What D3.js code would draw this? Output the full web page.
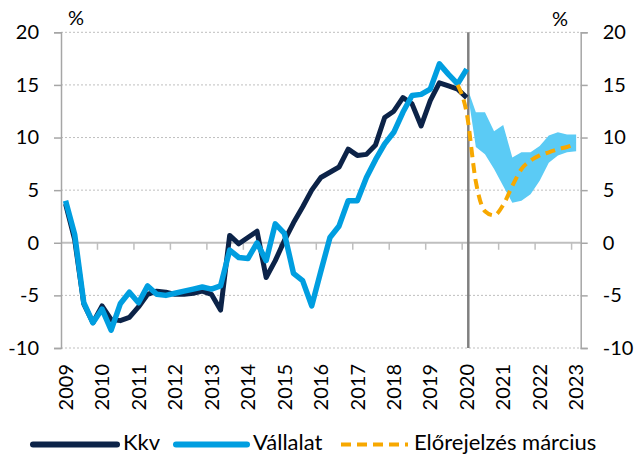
<!DOCTYPE html>
<html>
<head>
<meta charset="utf-8">
<script src="https://cdn.jsdelivr.net/npm/d3@7/dist/d3.min.js"></script>
<style>
    body { margin: 0; background: #fff; }
    svg text { font-family: Lato, "Open Sans", sans-serif; fill: #000; }
</style>
</head>
<body>
<div id="graph_box"></div>
<script>
// quarterly data, 2009 Q1 .. 2020 Q1
const years = ["2009", "2010", "2011", "2012", "2013", "2014", "2015", "2016",
    "2017", "2018", "2019", "2020", "2021", "2022", "2023"];
const kkv = [3.7, 0.3, -5.8, -7.6, -6.0, -7.3, -7.4, -7.1, -6.1, -4.9, -4.6, -4.7,
    -4.9, -4.9, -4.8, -4.6, -4.9, -6.4, 0.7, -0.1, 0.5, 1.1, -3.3, -1.7,
    0.2, 1.9, 3.4, 5.0, 6.2, 6.7, 7.2, 8.9, 8.3, 8.4, 9.3, 11.9,
    12.5, 13.8, 13.2, 11.1, 13.5, 15.2, 14.9, 14.6, 13.8];
const vallalat = [4.0, 0.8, -5.7, -7.6, -6.3, -8.3, -5.8, -4.7, -5.7, -4.1, -4.9, -5.0,
    -4.8, -4.6, -4.4, -4.2, -4.4, -4.1, -0.7, -1.4, -1.5, 0.0, -1.7, 1.8,
    0.9, -2.9, -3.6, -6.0, -2.7, 0.5, 1.6, 4.0, 4.0, 6.2, 7.9, 9.4,
    10.5, 12.4, 14.0, 14.1, 14.6, 17.0, 16.0, 15.1, 16.5];
// forecast band 2020 Q1 .. 2023 Q1
const bandStart = 44;
const bandUpper = [14.9, 12.4, 12.4, 10.6, 11.2, 8.1, 8.6, 8.6, 9.2, 10.2, 10.5, 10.3, 10.3];
const bandLower = [14.9, 9.1, 8.4, 7.0, 5.4, 3.8, 4.0, 4.6, 5.9, 7.6, 8.3, 8.6, 8.7];
// March forecast 2019 Q4 .. 2023 Q1
const forecastStart = 43;
const forecast = [15.0, 12.3, 5.8, 3.0, 2.6, 3.6, 5.4, 7.0, 7.8, 8.3, 8.6, 8.9, 9.1, 9.4];
const yTicks = [-10, -5, 0, 5, 10, 15, 20];
const legendNames = ["Kkv", "Vállalat", "Előrejelzés március"];

const W = 636, H = 455;
const margin = { left: 61, right: 580.7, top: 32.3, bottom: 348 };
const fs = 20;

const svg = d3.select("#graph_box").append("svg")
    .attr("width", W).attr("height", H);

const y = d3.scaleLinear().domain([-10, 20]).range([margin.bottom, margin.top]);
// 57 quarterly categories, 2009 Q1 .. 2023 Q1
const x = d3.scaleLinear().domain([-0.5, 56.5]).range([margin.left, margin.right]);

// grid
svg.append("g")
    .selectAll("line")
    .data(yTicks.filter(d => d !== 0))
    .enter().append("line")
    .attr("x1", margin.left).attr("x2", margin.right)
    .attr("y1", d => y(d)).attr("y2", d => y(d))
    .attr("stroke", "#bfbfbf").attr("stroke-width", 1)
    .attr("stroke-dasharray", "2,2");

// zero line + ticks
svg.append("line")
    .attr("x1", margin.left).attr("x2", margin.right)
    .attr("y1", y(0)).attr("y2", y(0))
    .attr("stroke", "#bfbfbf").attr("stroke-width", 2);
svg.append("g")
    .selectAll("line")
    .data(d3.range(1, 15))
    .enter().append("line")
    .attr("x1", d => x(4 * d - 0.5)).attr("x2", d => x(4 * d - 0.5))
    .attr("y1", y(0)).attr("y2", y(0) + 7)
    .attr("stroke", "#bfbfbf").attr("stroke-width", 1.5);

// y axes (plain hyphen for negatives)
const fmt = d => String(d);
const axL = svg.append("g").attr("transform", `translate(${margin.left},0)`)
    .call(d3.axisLeft(y).tickValues(yTicks).tickFormat(fmt).tickSize(7).tickPadding(15));
const axR = svg.append("g").attr("transform", `translate(${margin.right},0)`)
    .call(d3.axisRight(y).tickValues(yTicks).tickFormat(fmt).tickSize(7).tickPadding(15));
[axL, axR].forEach(a => {
    a.select(".domain").attr("stroke", "#a6a6a6").attr("stroke-width", 1.5);
    a.selectAll(".tick line").attr("stroke", "#a6a6a6").attr("stroke-width", 1.5);
    a.selectAll(".tick text").style("font-size", fs + "px").attr("fill", "#000");
});

// year labels, one per 4 quarters
svg.append("g")
    .selectAll("text")
    .data(years)
    .enter().append("text")
    .attr("transform", (d, i) => `translate(${x(4 * i)},364) rotate(-90)`)
    .attr("dy", "0.36em")
    .style("text-anchor", "end")
    .style("font-size", fs + "px")
    .text(d => d);

// % units
svg.append("text").attr("x", 68).attr("y", 25).style("font-size", fs + "px").text("%");
svg.append("text").attr("x", 552).attr("y", 26).style("font-size", fs + "px").text("%");

// forecast band
const band = d3.area()
    .x((d, i) => x(bandStart + i))
    .y0((d, i) => y(bandLower[i]))
    .y1(d => y(d));
svg.append("path")
    .datum(bandUpper)
    .attr("d", band)
    .attr("fill", "#5bcbf5");

// forecast start marker
svg.append("line")
    .attr("x1", 468.3).attr("x2", 468.3)
    .attr("y1", margin.top).attr("y2", margin.bottom)
    .attr("stroke", "#808080").attr("stroke-width", 2.5);

const line = d3.line()
    .x((d, i) => x(i))
    .y(d => y(d));

svg.append("path")
    .datum(kkv)
    .attr("d", line)
    .attr("fill", "none")
    .attr("stroke", "#0c2348").attr("stroke-width", 5)
    .attr("stroke-linejoin", "round");

svg.append("path")
    .datum(vallalat)
    .attr("d", line)
    .attr("fill", "none")
    .attr("stroke", "#009ee0").attr("stroke-width", 5.5)
    .attr("stroke-linejoin", "round");

svg.append("path")
    .datum(forecast)
    .attr("d", d3.line().x((d, i) => x(forecastStart + i)).y(d => y(d)).curve(d3.curveMonotoneX))
    .attr("fill", "none")
    .attr("stroke", "#f7a800").attr("stroke-width", 4)
    .attr("stroke-dasharray", "10,6");

// legend
const legend = [
    { name: legendNames[0], x1: 33, x2: 117, tx: 123, color: "#0c2348", dash: null },
    { name: legendNames[1], x1: 176, x2: 247, tx: 253, color: "#009ee0", dash: null },
    { name: legendNames[2], x1: 341, x2: 408, tx: 414, color: "#f7a800", dash: "10,6" }
];
const lg = svg.append("g");
legend.forEach(l => {
    lg.append("line")
        .attr("x1", l.x1).attr("x2", l.x2)
        .attr("y1", 444.5).attr("y2", 444.5)
        .attr("stroke", l.color)
        .attr("stroke-width", l.dash ? 4 : 6)
        .attr("stroke-linecap", l.dash ? "butt" : "round")
        .attr("stroke-dasharray", l.dash);
    lg.append("text")
        .attr("x", l.tx).attr("y", 450)
        .style("font-size", "22px")
        .text(l.name);
});
</script>
</body>
</html>
